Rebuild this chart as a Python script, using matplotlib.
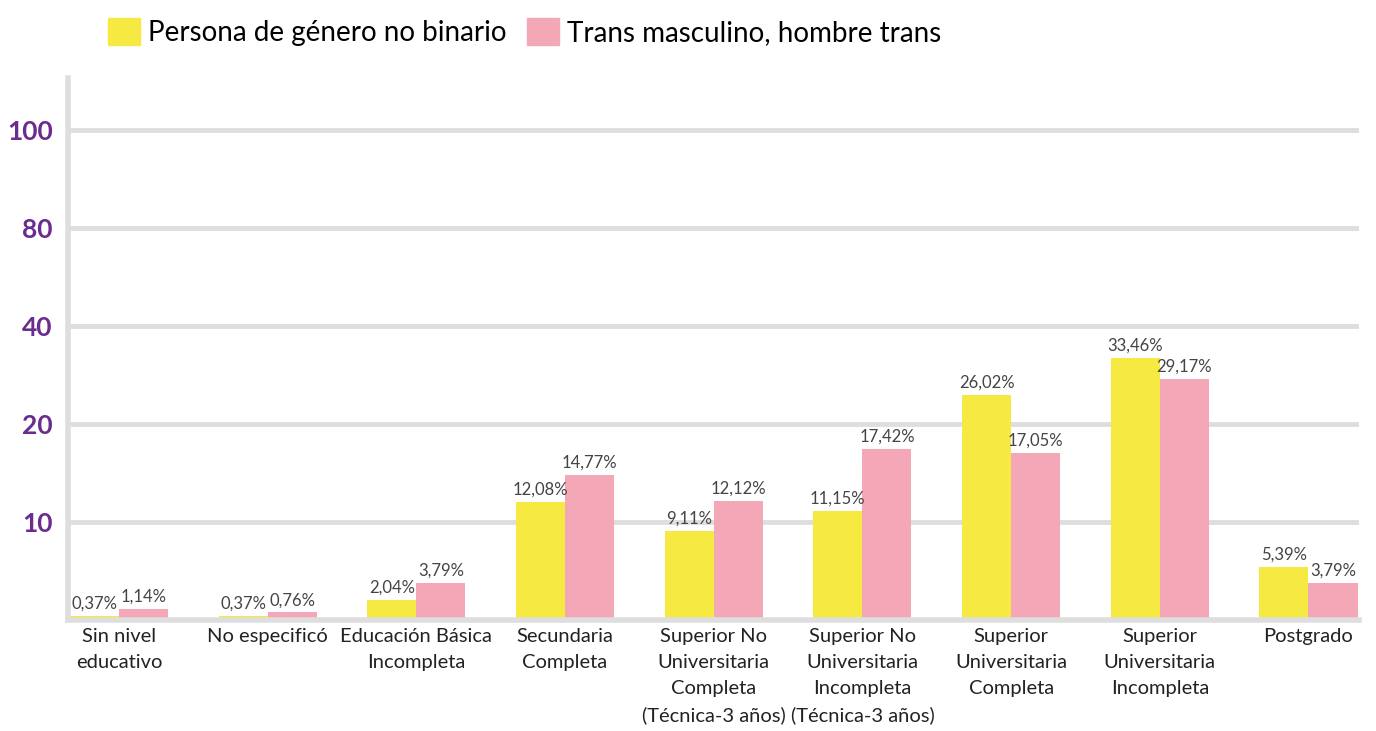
import numpy as np
import matplotlib
matplotlib.use("Agg")
import matplotlib.pyplot as plt
from matplotlib.patches import Patch

plt.rcParams['font.family'] = ['Lato', 'DejaVu Sans']

categorias = ["Sin nivel\neducativo", "No especificó", "Educación Básica\nIncompleta",
              "Secundaria\nCompleta", "Superior No\nUniversitaria\nCompleta\n(Técnica-3 años)",
              "Superior No\nUniversitaria\nIncompleta\n(Técnica-3 años)",
              "Superior\nUniversitaria\nCompleta", "Superior\nUniversitaria\nIncompleta",
              "Postgrado"]
no_binario = [0.37, 0.37, 2.04, 12.08, 9.11, 11.15, 26.02, 33.46, 5.39]
trans_masc = [1.14, 0.76, 3.79, 14.77, 12.12, 17.42, 17.05, 29.17, 3.79]
series = ["Persona de género no binario", "Trans masculino, hombre trans"]
yticks = [10, 20, 40, 80, 100]

# the original axis is spaced evenly between these ticks, not linearly
pts_val = [0, 10, 20, 40, 80, 100, 120]
pts_pos = [0, 1, 2, 3, 4, 5, 6]
fwd = lambda v: np.interp(v, pts_val, pts_pos)
inv = lambda p: np.interp(p, pts_pos, pts_val)

amarillo = "#F5E942"
rosa = "#F4A7B7"
gris = "#DEDEDE"
morado = "#6A2C8E"

fig = plt.figure(figsize=(13.76, 7.31), dpi=100)
ax = fig.add_axes([0.0494, 0.152, 0.9386, 0.741])
ax.set_yscale('function', functions=(fwd, inv))

x = np.arange(len(categorias))
w = 0.33
b1 = ax.bar(x - w / 2, no_binario, w, color=amarillo, zorder=3)
b2 = ax.bar(x + w / 2, trans_masc, w, color=rosa, zorder=3)

for bars, vals in ((b1, no_binario), (b2, trans_masc)):
    for r, v in zip(bars, vals):
        ax.annotate(f"{v:.2f}%".replace(".", ","),
                    (r.get_x() + r.get_width() / 2, v),
                    xytext=(0, 3), textcoords="offset points",
                    ha="center", va="bottom", fontsize=12, color="#444444")

ax.set_xlim(-0.343, 8.343)
ax.set_ylim(0, 110.6)
ax.set_yticks(yticks)
ax.set_yticklabels([str(t) for t in yticks], fontsize=19, fontweight="bold", color=morado)
ax.set_xticks(x)
ax.set_xticklabels(categorias, fontsize=14.5, color="#222222", linespacing=1.62, va="top")
ax.tick_params(axis="both", length=0)
ax.tick_params(axis="y", pad=11)
ax.tick_params(axis="x", pad=6)
ax.yaxis.grid(True, color=gris, linewidth=3.5, zorder=0)

for s in ("top", "right"):
    ax.spines[s].set_visible(False)
for s in ("left", "bottom"):
    ax.spines[s].set_color(gris)
    ax.spines[s].set_linewidth(4)
    ax.spines[s].set_zorder(4)

handles = [Patch(color=amarillo), Patch(color=rosa)]
fig.legend(handles, series, loc="upper left", bbox_to_anchor=(0.06, 1.01), ncol=2,
           frameon=False, fontsize=20, handlelength=1.15, handleheight=1.15,
           handletextpad=0.3, columnspacing=0.75)

fig.savefig("out.png", dpi=100)
